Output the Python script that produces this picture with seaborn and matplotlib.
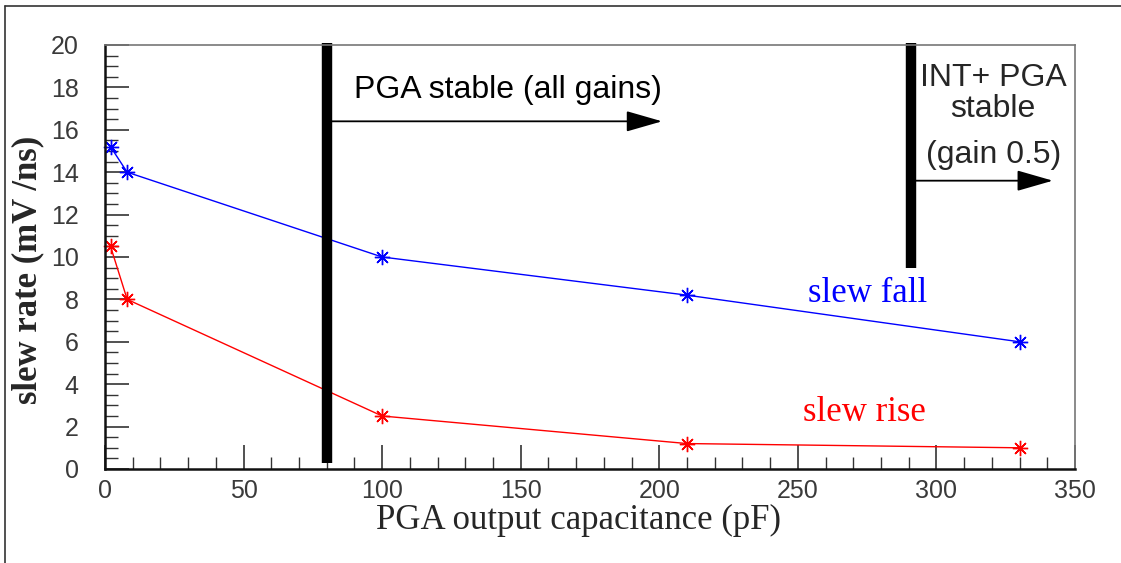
import numpy as np
import pandas as pd
import matplotlib
matplotlib.use("Agg")
import matplotlib.pyplot as plt
import seaborn as sns
from matplotlib.patches import FancyArrowPatch
from matplotlib.lines import Line2D

# ---- data ----
capacitance = [2, 8, 100, 210, 330]
slew_fall = [15.2, 14.0, 10.0, 8.2, 6.0]
slew_rise = [10.5, 8.0, 2.5, 1.2, 1.0]

x_ticks = [0, 50, 100, 150, 200, 250, 300, 350]
y_ticks = [0, 2, 4, 6, 8, 10, 12, 14, 16, 18, 20]

# stability markers: (x, y_bottom, y_top)
bar1 = (80, 0.3, 20.1)
bar2 = (291, 9.5, 20.1)
arrow1 = (80, 201, 16.4)
arrow2 = (291, 342, 13.6)

sns.set_theme(style="white")

fig = plt.figure(figsize=(11.21, 5.63), dpi=100)
ax = fig.add_axes([105/1121, 1-469/563, 970/1121, 424/563])

df_fall = pd.DataFrame({"x": capacitance, "y": slew_fall})
df_rise = pd.DataFrame({"x": capacitance, "y": slew_rise})
sns.lineplot(data=df_fall, x="x", y="y", ax=ax, color="#0000ff", lw=1.0,
             marker=(8, 2, 0), markersize=11, markeredgewidth=1.0,
             markeredgecolor="#0000ff", clip_on=False)
sns.lineplot(data=df_rise, x="x", y="y", ax=ax, color="#ff0000", lw=1.0,
             marker=(8, 2, 0), markersize=11, markeredgewidth=1.0,
             markeredgecolor="#ff0000", clip_on=False)

ax.set_xlim(0, 350)
ax.set_ylim(0, 20)
ax.set_xticks(x_ticks)
ax.set_yticks(y_ticks)
ax.set_xticks(np.arange(0, 351, 10), minor=True)
ax.set_yticks(np.arange(0, 20.01, 0.5), minor=True)
ax.tick_params(axis="both", which="major", direction="in", length=17, width=1.2,
               color="#333333", labelsize=18, labelcolor="#3a3a3a",
               bottom=True, left=True, top=False, right=False)
ax.tick_params(axis="both", which="minor", direction="in", length=9, width=1.0,
               color="#333333", bottom=True, left=True, top=False, right=False)
ax.tick_params(axis="x", which="major", pad=7)
ax.tick_params(axis="y", which="major", pad=19)
for lab in ax.get_xticklabels() + ax.get_yticklabels():
    lab.set_fontfamily("Liberation Sans")
    lab.set_fontweight("light")

for s in ["left", "bottom"]:
    ax.spines[s].set_color("#111111")
    ax.spines[s].set_linewidth(1.8)
for s in ["top", "right"]:
    ax.spines[s].set_color("#777777")
    ax.spines[s].set_linewidth(1.2)

ax.set_xlabel("PGA output capacitance (pF)", fontfamily="Liberation Serif",
              fontsize=25)
ax.xaxis.set_label_coords((578-105)/970, -(520-469)/424)
ax.xaxis.label.set_va("center")
ax.set_ylabel("slew rate (mV /ns)", fontfamily="Liberation Serif",
              fontsize=25, fontweight="bold")
ax.yaxis.set_label_coords(-(105-28)/970, (469-270)/424)
ax.yaxis.label.set_va("center")

# thick vertical bars
for bx, b0, b1 in [bar1, bar2]:
    ax.add_line(Line2D([bx, bx], [b0, b1], color="black", lw=7.5,
                       solid_capstyle="butt", clip_on=False))

# arrows
for x0, x1, yy in [arrow1, arrow2]:
    arr = FancyArrowPatch((x0, yy), (x1, yy),
                          arrowstyle="-|>,head_length=1.6,head_width=0.46",
                          mutation_scale=14, color="black", lw=1.3,
                          shrinkA=0, shrinkB=0, clip_on=False)
    ax.add_patch(arr)

sans = "Liberation Sans"
ax.text(90, 17.9, "PGA stable (all gains)", fontfamily=sans, fontsize=23,
        ha="left", va="center", color="black")
ax.text(320.5, 18.43, "INT+ PGA", fontfamily=sans, fontsize=23, ha="center", va="center")
ax.text(320.5, 16.96, "stable", fontfamily=sans, fontsize=23, ha="center", va="center")
ax.text(320.5, 14.81, "(gain 0.5)", fontfamily=sans, fontsize=23, ha="center", va="center")

serif = "Liberation Serif"
ax.text(275, 8.3, "slew fall", fontfamily=serif, fontsize=25, color="#0000ff",
        ha="center", va="center")
ax.text(274, 2.65, "slew rise", fontfamily=serif, fontsize=25, color="#ff0000",
        ha="center", va="center")

# outer canvas frame (left and top edges)
fig.add_artist(Line2D([5/1121, 5/1121], [0, 1-6/563], transform=fig.transFigure,
                      color="#333333", lw=1.2))
fig.add_artist(Line2D([5/1121, 1], [1-6/563, 1-6/563], transform=fig.transFigure,
                      color="#333333", lw=1.2))

fig.savefig("out.png", dpi=100)
